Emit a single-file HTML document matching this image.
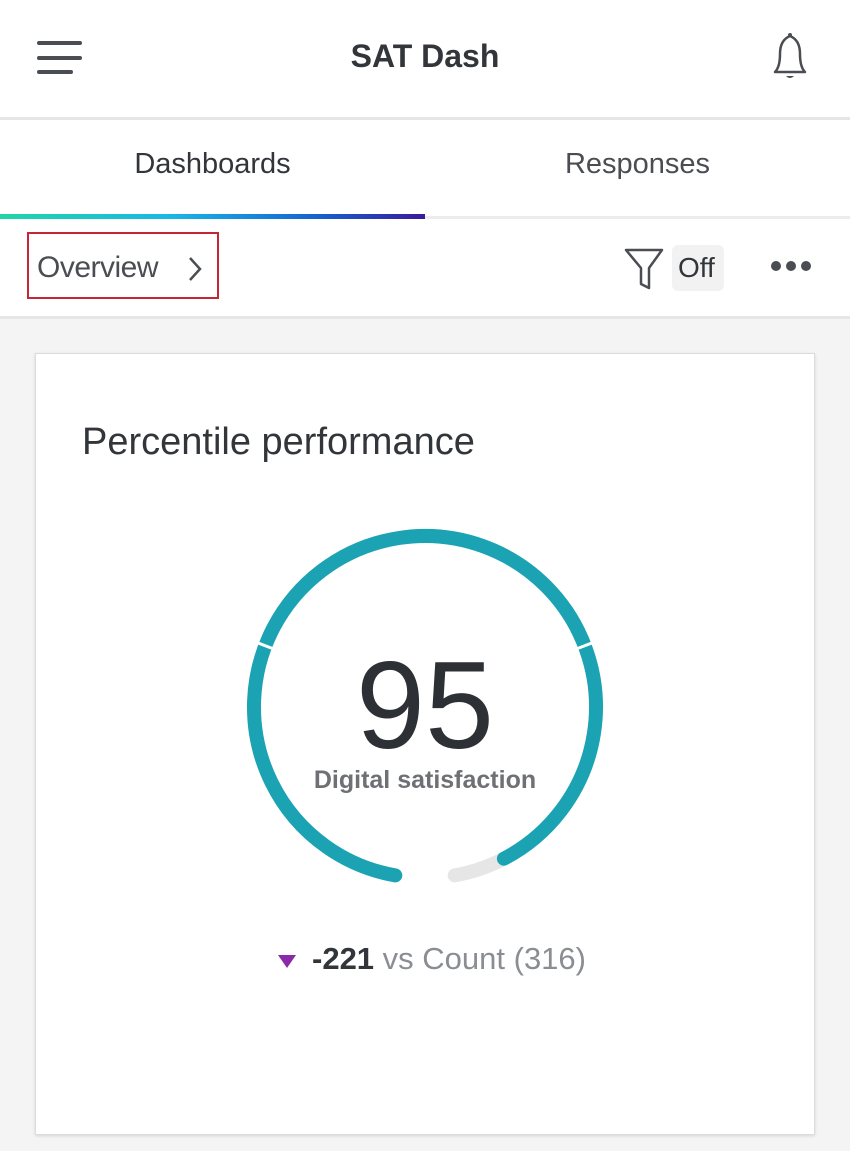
<!DOCTYPE html>
<html><head><meta charset="utf-8"><style>
body{margin:0;width:850px;height:1151px;background:#f4f4f4;font-family:"Liberation Sans",sans-serif;position:relative;overflow:hidden}
.abs{position:absolute}
</style></head><body>
<div class="abs" style="left:0;top:0;width:850px;height:118px;background:#fff"></div>
<div class="abs" style="left:0;top:117px;width:850px;height:3px;background:#e6e6e6"></div>
<div class="abs" style="left:37px;top:41px;width:45px;height:4px;border-radius:2px;background:#4a4d52"></div>
<div class="abs" style="left:37px;top:56px;width:45px;height:4px;border-radius:2px;background:#4a4d52"></div>
<div class="abs" style="left:37px;top:70px;width:36px;height:4px;border-radius:2px;background:#4a4d52"></div>
<div class="abs" style="left:0;top:38px;width:850px;text-align:center;font-size:32px;font-weight:bold;color:#32363a">SAT Dash</div>
<svg class="abs" style="left:765px;top:32px" width="50" height="50"><path d="M10 40 Q15 35 15 22 Q15 8 25 4 Q35 8 35 22 Q35 35 40 40 Z" fill="none" stroke="#4a4d52" stroke-width="2.5" stroke-linejoin="round"/><circle cx="25" cy="3" r="2" fill="#4a4d52"/><path d="M21 44 Q25 48 29 44" fill="#4a4d52"/></svg>
<div class="abs" style="left:0;top:120px;width:850px;height:98px;background:#fff"></div>
<div class="abs" style="left:0;top:148px;width:425px;text-align:center;font-size:29px;color:#32363a">Dashboards</div>
<div class="abs" style="left:425px;top:148px;width:425px;text-align:center;font-size:29px;color:#4a4d52">Responses</div>
<div class="abs" style="left:0;top:214px;width:425px;height:5px;background:linear-gradient(90deg,#21d5a6,#1ab7e6 40%,#1660d0 75%,#3a1a9a)"></div>
<div class="abs" style="left:425px;top:216px;width:425px;height:3px;background:#ececec"></div>
<div class="abs" style="left:0;top:219px;width:850px;height:98px;background:#fff"></div>
<div class="abs" style="left:0;top:316px;width:850px;height:3px;background:#e6e6e6"></div>
<div class="abs" style="left:27px;top:232px;width:188px;height:63px;border:2px solid #c62535"></div>
<div class="abs" style="left:37px;top:251px;font-size:30px;color:#4a4d52;letter-spacing:-0.5px">Overview</div>
<svg class="abs" style="left:185px;top:254px" width="20" height="30"><path d="M5 4 L15 15 L5 26" fill="none" stroke="#4a4d52" stroke-width="2.5"/></svg>
<svg class="abs" style="left:622px;top:246px" width="44" height="46"><path d="M4 4 H40 L27 22 V42 L19 38 V22 Z" fill="none" stroke="#4a4d52" stroke-width="2.5" stroke-linejoin="round"/></svg>
<div class="abs" style="left:672px;top:245px;width:52px;height:46px;background:#f2f2f2;border-radius:6px"></div>
<div class="abs" style="left:678px;top:252px;font-size:28px;color:#32363a">Off</div>
<div class="abs" style="left:771px;top:261px;width:10px;height:10px;border-radius:5px;background:#4a4d52"></div>
<div class="abs" style="left:786px;top:261px;width:10px;height:10px;border-radius:5px;background:#4a4d52"></div>
<div class="abs" style="left:801px;top:261px;width:10px;height:10px;border-radius:5px;background:#4a4d52"></div>
<div class="abs" style="left:35px;top:353px;width:778px;height:780px;background:#fff;border:1px solid #dcdcdc;box-shadow:0 1px 3px rgba(0,0,0,0.12)"></div>
<div class="abs" style="left:82px;top:421px;font-size:38px;color:#32363a">Percentile performance</div>
<svg class="abs" style="left:0;top:0" width="850" height="1151">
<path d="M503.9,858.7 A171,171 0 0 1 454.7,875.4" fill="none" stroke="#e6e6e6" stroke-width="14" stroke-linecap="round"/>
<path d="M395.3,875.4 A171,171 0 1 1 503.9,858.7" fill="none" stroke="#1ba3b3" stroke-width="14" stroke-linecap="round"/>
<line x1="273.8" y1="649" x2="255" y2="641.8" stroke="#fff" stroke-width="3"/>
<line x1="576.2" y1="649" x2="595" y2="641.8" stroke="#fff" stroke-width="3"/>
</svg>
<div class="abs" style="left:0;top:636px;width:850px;text-align:center;font-size:124px;color:#2d3035;line-height:140px;font-weight:300">95</div>
<div class="abs" style="left:0;top:766px;width:850px;text-align:center;font-size:25px;font-weight:bold;color:#6e7073">Digital satisfaction</div>
<div class="abs" style="left:278px;top:955px;width:0;height:0;border-left:9px solid transparent;border-right:9px solid transparent;border-top:13px solid #8b2aa8"></div>
<div class="abs" style="left:312px;top:941px;font-size:31px;color:#32363a"><b>-221</b> <span style="color:#8a8d92">vs Count (316)</span></div>
</body></html>
